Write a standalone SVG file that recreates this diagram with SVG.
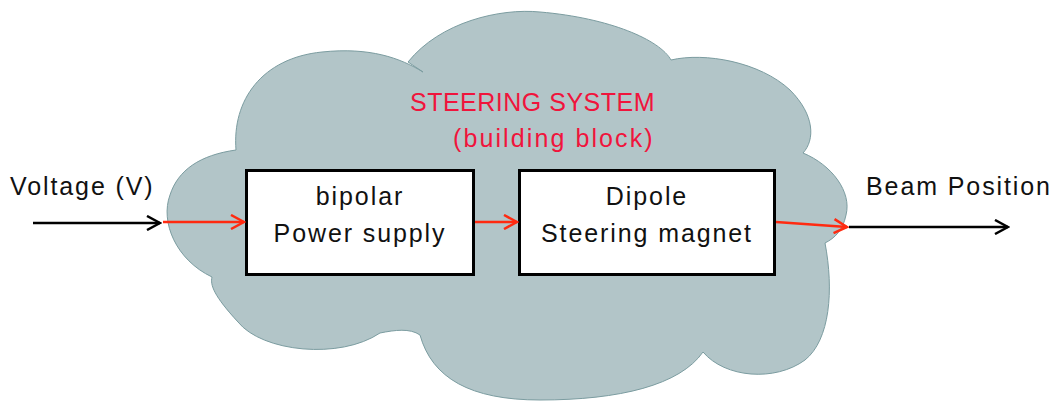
<svg xmlns="http://www.w3.org/2000/svg" width="1057" height="401" viewBox="0 0 1057 401">
<defs>
<marker id="hk" markerWidth="16" markerHeight="16" refX="14" refY="8" orient="auto" markerUnits="userSpaceOnUse"><path d="M1,1 L14,8 L1,15" fill="none" stroke="#000" stroke-width="2.5"/></marker>
<marker id="hr" markerWidth="16" markerHeight="16" refX="14" refY="8" orient="auto" markerUnits="userSpaceOnUse"><path d="M1,1 L14,8 L1,15" fill="none" stroke="#ff2a10" stroke-width="2.5"/></marker>
<style>
.t{font-family:"Liberation Sans",Arial,sans-serif;font-size:25px;fill:#111;letter-spacing:1.9px}
.r{font-family:"Liberation Sans",Arial,sans-serif;font-size:25px;fill:#f0143c;letter-spacing:0.5px}
.r2{letter-spacing:2.1px}
.box{fill:#fff;stroke:#000;stroke-width:3}
.k{stroke:#000;stroke-width:2.5;fill:none}
.rd{stroke:#ff2a10;stroke-width:2.5;fill:none}
</style>
</defs>
<g id="cloud">
<path d="M408,62 C440,22 500,8 540,12 C610,18 660,40 671,60 C705,52 760,62 790,90 C815,115 815,140 803,153 C832,165 852,192 846,215 C843,230 835,238 825,243 C834,290 830,340 805,360 C775,382 725,378 703,352 C680,385 620,400 540,400 C470,400 432,378 420,335 C410,328 395,330 380,333 C340,360 262,352 238,322 C214,296 210,285 212,277 C176,260 160,222 170,195 C178,170 200,155 236,150 C232,100 262,58 322,52 C370,47 400,58 423,72 Z" fill="#b2c5c8" stroke="#7b9ca0" stroke-width="1"/>
</g>
<g id="title">
<text class="r" x="410" y="111">STEERING SYSTEM</text>
<text class="r r2" x="453" y="147">(building block)</text>
</g>
<g id="voltage"><text class="t" x="10" y="195">Voltage (V)</text></g>
<g id="beam"><text class="t" x="866" y="195">Beam Position</text></g>
<g id="supply">
<rect class="box" x="246.5" y="170.5" width="227" height="104"/>
<text class="t" x="360" y="205" text-anchor="middle">bipolar</text>
<text class="t" x="360" y="242" text-anchor="middle">Power supply</text>
</g>
<g id="magnet">
<rect class="box" x="519.5" y="170.5" width="255" height="104"/>
<text class="t" x="647" y="205" text-anchor="middle">Dipole</text>
<text class="t" x="647" y="242" text-anchor="middle">Steering magnet</text>
</g>
<g id="connectors">
<line class="k" x1="33" y1="223" x2="160" y2="223" marker-end="url(#hk)"/>
<line class="rd" x1="163" y1="222" x2="244" y2="222" marker-end="url(#hr)"/>
<line class="rd" x1="475" y1="222" x2="517" y2="222" marker-end="url(#hr)"/>
<line class="rd" x1="776" y1="222" x2="847" y2="227" marker-end="url(#hr)"/>
<line class="k" x1="849" y1="227" x2="1008" y2="227" marker-end="url(#hk)"/>
</g>
</svg>
